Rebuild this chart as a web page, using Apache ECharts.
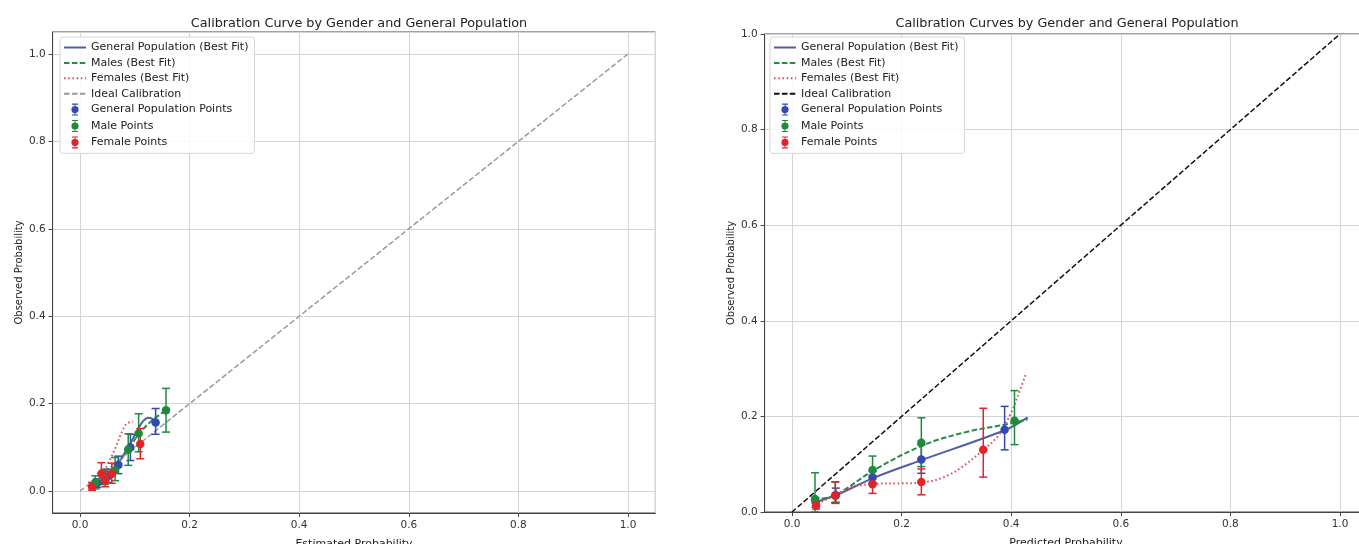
<!DOCTYPE html>
<html>
<head>
<meta charset="utf-8">
<script src="https://cdn.jsdelivr.net/npm/echarts@6/dist/echarts.min.js"></script>
<style>
  html, body { margin: 0; padding: 0; background: #fff; overflow: hidden; }
  #chart { width: 1380px; height: 544px; }
</style>
</head>
<body>
<div id="chart"></div>
<script>
// ---- left panel: best-fit curves ----
const genFitL = [[0.025, 0.012], [0.05, 0.035], [0.07, 0.065], [0.09, 0.105], [0.105, 0.14], [0.115, 0.16], [0.125, 0.168], [0.132, 0.165], [0.14, 0.157]];
const maleFitL = [[0.02, 0.008], [0.05, 0.035], [0.07, 0.065], [0.088, 0.095], [0.107, 0.13], [0.13, 0.16], [0.157, 0.185]];
const femaleFitL = [[0.02, 0.008], [0.035, 0.03], [0.05, 0.06], [0.065, 0.1], [0.078, 0.14], [0.086, 0.155], [0.097, 0.159]];
const idealLine = [[0, 0], [1, 1]];

// ---- left panel: binned points with error bars ----
const genXL = [0.031, 0.05, 0.07, 0.092, 0.138];
const genYL = [0.018, 0.033, 0.06, 0.10, 0.157];
const genLoL = [0.008, 0.02, 0.04, 0.07, 0.130];
const genHiL = [0.028, 0.05, 0.08, 0.13, 0.189];

const maleXL = [0.028, 0.045, 0.064, 0.088, 0.107, 0.157];
const maleYL = [0.02, 0.03, 0.048, 0.095, 0.132, 0.185];
const maleLoL = [0.005, 0.015, 0.024, 0.059, 0.09, 0.135];
const maleHiL = [0.035, 0.05, 0.077, 0.131, 0.177, 0.235];

const femXL = [0.022, 0.039, 0.046, 0.058, 0.110];
const femYL = [0.010, 0.040, 0.025, 0.040, 0.108];
const femLoL = [0.002, 0.018, 0.01, 0.018, 0.074];
const femHiL = [0.02, 0.065, 0.045, 0.064, 0.143];

// ---- right panel: best-fit curves ----
const genFitR = [[0.04, 0.02], [0.08, 0.035], [0.15, 0.072], [0.24, 0.11], [0.39, 0.172], [0.43, 0.198]];
const maleFitR = [[0.04, 0.025], [0.08, 0.036], [0.15, 0.088], [0.24, 0.14], [0.32, 0.168], [0.39, 0.183], [0.43, 0.194]];
const femaleFitR = [[0.04, 0.014], [0.08, 0.035], [0.11, 0.052], [0.15, 0.059], [0.2, 0.06], [0.24, 0.062], [0.28, 0.074], [0.315, 0.098], [0.349, 0.13], [0.376, 0.159], [0.4, 0.208], [0.412, 0.243], [0.427, 0.289]];

// ---- right panel: points with error bars ----
const genXR = [0.043, 0.08, 0.147, 0.236, 0.388];
const genYR = [0.021, 0.035, 0.072, 0.110, 0.172];
const genLoR = [0.01, 0.02, 0.058, 0.081, 0.130];
const genHiR = [0.03, 0.05, 0.086, 0.14, 0.221];

const maleXR = [0.042, 0.079, 0.147, 0.236, 0.406];
const maleYR = [0.027, 0.034, 0.088, 0.145, 0.191];
const maleLoR = [0.0, 0.02, 0.062, 0.095, 0.141];
const maleHiR = [0.082, 0.063, 0.117, 0.197, 0.254];

const femXR = [0.044, 0.079, 0.147, 0.236, 0.349];
const femYR = [0.014, 0.035, 0.058, 0.063, 0.130];
const femLoR = [0.006, 0.018, 0.039, 0.036, 0.073];
const femHiR = [0.023, 0.063, 0.076, 0.090, 0.217];

const titles = ['Calibration Curve by Gender and General Population', 'Calibration Curves by Gender and General Population'];
const xNames = ['Estimated Probability', 'Predicted Probability'];
const yName = 'Observed Probability';
const legendLabels = ['General Population (Best Fit)', 'Males (Best Fit)', 'Females (Best Fit)', 'Ideal Calibration', 'General Population Points', 'Male Points', 'Female Points'];

const FONT = 'DejaVu Sans';
const BLUE_LINE = '#4f5fa6', BLUE = '#3349b0';
const GREEN_LINE = '#2a8a4a', GREEN = '#1f8a3c';
const RED_LINE = '#e0505c', RED = '#e3232b';

// errorbar marker for the legend: caps, stem and a dot
const errIcon = 'path://M2,0H10V1.4H2Z M5.3,0H6.7V16H5.3Z M2,14.6H10V16H2Z M6,3.2A4.8,4.8 0 1 1 5.99,3.2Z';

function zip(xs, ys) { return xs.map((x, i) => [x, ys[i]]); }
function zip3(xs, lo, hi) { return xs.map((x, i) => [x, lo[i], hi[i]]); }

function errSeries(name, idx, xs, lo, hi, color) {
  return {
    name: name, type: 'custom', xAxisIndex: idx, yAxisIndex: idx, clip: true, z: 4,
    data: zip3(xs, lo, hi),
    encode: { x: 0, y: [1, 2] },
    renderItem: function (params, api) {
      const top = api.coord([api.value(0), api.value(2)]);
      const bot = api.coord([api.value(0), api.value(1)]);
      const w = 4;
      const st = { stroke: color, lineWidth: 1.5 };
      return {
        type: 'group',
        children: [
          { type: 'line', shape: { x1: top[0], y1: top[1], x2: bot[0], y2: bot[1] }, style: st },
          { type: 'line', shape: { x1: top[0] - w, y1: top[1], x2: top[0] + w, y2: top[1] }, style: st },
          { type: 'line', shape: { x1: bot[0] - w, y1: bot[1], x2: bot[0] + w, y2: bot[1] }, style: st }
        ]
      };
    }
  };
}

function lineSeries(name, idx, data, color, type, width) {
  return {
    name: name, type: 'line', xAxisIndex: idx, yAxisIndex: idx,
    data: data, smooth: 0.35, symbol: 'none', z: 2,
    lineStyle: { color: color, width: width || 2, type: type },
    itemStyle: { color: color }
  };
}

function pointSeries(name, idx, xs, ys, color) {
  return {
    name: name, type: 'scatter', xAxisIndex: idx, yAxisIndex: idx,
    data: zip(xs, ys), symbolSize: 8.5, z: 5,
    itemStyle: { color: color, opacity: 1 }
  };
}

function panelSeries(p, idx, fits, pts, idealColor) {
  const n = legendLabels.map(l => p + '|' + l);
  const out = [
    lineSeries(n[0], idx, fits[0], BLUE_LINE, 'solid'),
    lineSeries(n[1], idx, fits[1], GREEN_LINE, [5.5, 2.4]),
    lineSeries(n[2], idx, fits[2], RED_LINE, [1.6, 2.6]),
    lineSeries(n[3], idx, idealLine, idealColor, [5.5, 2.4], 1.5)
  ];
  const cols = [BLUE, GREEN, RED];
  pts.forEach((g, i) => {
    out.push(errSeries(p + '|err' + i, idx, g[0], g[2], g[3], cols[i]));
    out.push(pointSeries(n[4 + i], idx, g[0], g[1], cols[i]));
  });
  return out;
}

function legendFor(p, left) {
  return {
    left: left, top: 37, orient: 'vertical',
    selectedMode: false,
    itemWidth: 22, itemHeight: 12, itemGap: 4.4,
    padding: [5, 6, 5, 3],
    backgroundColor: 'rgba(255,255,255,0.85)',
    borderColor: '#d6d6d6', borderWidth: 1, borderRadius: 3,
    textStyle: { fontFamily: FONT, fontSize: 11, color: '#222' },
    formatter: nm => nm.split('|')[1],
    data: legendLabels.map((l, i) => i < 4
      ? { name: p + '|' + l, itemStyle: { opacity: 0 } }
      : { name: p + '|' + l, icon: errIcon })
  };
}

function xAxisFor(idx) {
  return {
    gridIndex: idx, type: 'value', min: -0.05, max: 1.05, splitNumber: 5,
    name: xNames[idx], nameLocation: 'middle', nameGap: 26,
    nameTextStyle: { fontFamily: FONT, fontSize: 11, color: '#222' },
    axisLine: { show: true, onZero: false, lineStyle: { color: '#444' } },
    axisTick: { show: true, length: 4, lineStyle: { color: '#444' } },
    axisLabel: { fontFamily: FONT, fontSize: 10.5, color: '#333', margin: 7, showMinLabel: false, showMaxLabel: false, formatter: v => v.toFixed(1) },
    splitLine: { show: true, lineStyle: { color: '#d4d4d4', width: 1 } }
  };
}

function yAxisFor(idx, min, max) {
  return {
    gridIndex: idx, type: 'value', min: min, max: max, splitNumber: 5,
    name: yName, nameLocation: 'middle', nameGap: 28, nameRotate: 90,
    nameTextStyle: { fontFamily: FONT, fontSize: 10, color: '#222' },
    axisLine: { show: true, onZero: false, lineStyle: { color: '#444' } },
    axisTick: { show: true, length: 4, lineStyle: { color: '#444' } },
    axisLabel: { fontFamily: FONT, fontSize: 10.5, color: '#333', margin: 7, showMinLabel: min === 0, showMaxLabel: max === 1, formatter: v => v.toFixed(1) },
    splitLine: { show: true, lineStyle: { color: '#d4d4d4', width: 1 } }
  };
}

const chart = echarts.init(document.getElementById('chart'), null, { renderer: 'canvas' });
chart.setOption({
  animation: false,
  backgroundColor: '#fff',
  title: [
    { text: titles[0], left: 354, top: 12, textAlign: 'center', textStyle: { fontFamily: FONT, fontSize: 12.8, fontWeight: 'normal', color: '#222' } },
    { text: titles[1], left: 1062, top: 12, textAlign: 'center', textStyle: { fontFamily: FONT, fontSize: 12.8, fontWeight: 'normal', color: '#222' } }
  ],
  legend: [legendFor('L', 60), legendFor('R', 770)],
  grid: [
    { left: 52.6, top: 32, width: 602.8, height: 481, outerBoundsMode: 'none', show: true, borderColor: '#444', borderWidth: 1, backgroundColor: 'transparent' },
    { left: 764.6, top: 34, width: 602.8, height: 478, outerBoundsMode: 'none', show: true, borderColor: '#444', borderWidth: 1, backgroundColor: 'transparent' }
  ],
  xAxis: [xAxisFor(0), xAxisFor(1)],
  yAxis: [yAxisFor(0, -0.05, 1.05), yAxisFor(1, 0, 1)],
  series: [].concat(
    panelSeries('L', 0, [genFitL, maleFitL, femaleFitL], [
      [genXL, genYL, genLoL, genHiL],
      [maleXL, maleYL, maleLoL, maleHiL],
      [femXL, femYL, femLoL, femHiL]
    ], '#9a9a9a'),
    panelSeries('R', 1, [genFitR, maleFitR, femaleFitR], [
      [genXR, genYR, genLoR, genHiR],
      [maleXR, maleYR, maleLoR, maleHiR],
      [femXR, femYR, femLoR, femHiR]
    ], '#111')
  )
});
</script>
</body>
</html>
